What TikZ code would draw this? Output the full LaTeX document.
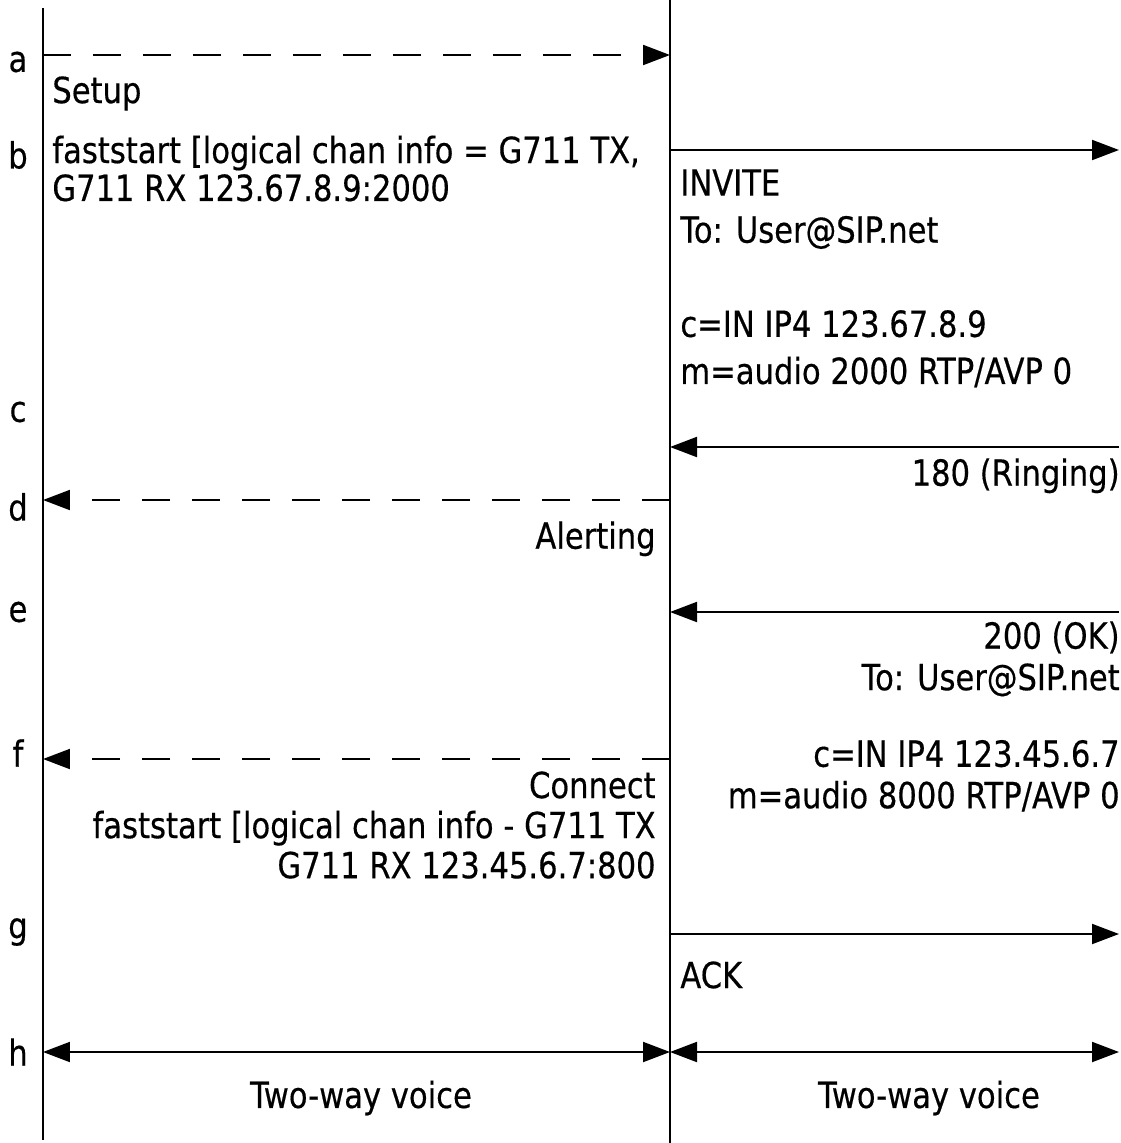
\documentclass[tikz,border=0pt]{standalone}
\usepackage{fontspec}
\setmainfont{DejaVu Sans}[FakeStretch=0.85, FakeBold=0.4]
\usetikzlibrary{arrows.meta}
\tikzset{
  life/.style={line width=0.04cm},
  msg/.style={line width=0.04cm, -{Triangle[length=0.54cm, width=0.4cm]}},
  msgdash/.style={msg, dash pattern=on 0.56cm off 0.44cm},
  voice/.style={line width=0.04cm, {Triangle[length=0.54cm, width=0.4cm]}-{Triangle[length=0.54cm, width=0.4cm]}},
  note/.style={inner sep=0pt, font=\fontsize{20.5}{22.8}\selectfont},
  notel/.style={note, align=left, anchor=north west},
  noter/.style={note, align=right, anchor=north east},
  steptag/.style={note},
}

\begin{document}
\begin{tikzpicture}[x=0.02cm, y=-0.02cm]
  \useasboundingbox (0,0) rectangle (1120,1143);
  \coordinate (Ltop) at (43,8);
  \coordinate (Lbot) at (43,1140);
  \coordinate (Mtop) at (670,0);
  \coordinate (Mbot) at (670,1143);
  \foreach \n/\y in {a/55, b/150, c/447, d/500, e/612, f/759, g/934, h/1052} {
    \coordinate (L\n) at (43,\y);
    \coordinate (M\n) at (670,\y);
    \coordinate (R\n) at (1119,\y);
  }
  \foreach \n/\y in {a/62, b/155, c/412, d/507, e/612, f/753, g/932, h/1052}
    \node[steptag] (tag\n) at (18,\y) {\n};

  \draw[life] (Ltop) -- (Lbot);
  \draw[life] (Mtop) -- (Mbot);

  \draw[msgdash] (La) -- (Ma);
  \draw[msg] (Mb) -- (Rb);
  \draw[msg] (Rc) -- (Mc);
  \draw[msgdash] (Md) -- (Ld);
  \draw[msg] (Re) -- (Me);
  \draw[msgdash] (Mf) -- (Lf);
  \draw[msg] (Mg) -- (Rg);
  \draw[voice] (Lh) -- (Mh);
  \draw[voice] (Mh) -- (Rh);

  \node[notel, font=\fontsize{20.5}{21.6}\selectfont] (setup) at (52,76) {Setup\\[12.5pt]faststart [logical chan info = G711 TX,\\G711 RX 123.67.8.9:2000};
  \node[notel, font=\fontsize{20.5}{26.8}\selectfont] (invite) at (680,169) {INVITE\\To: User@SIP.net\\[26.8pt]c=IN IP4 123.67.8.9\\m=audio 2000 RTP/AVP 0};
  \node[noter] (ringing) at (1120,458) {180 (Ringing)};
  \node[noter] (alerting) at (656,521) {Alerting};
  \node[noter, font=\fontsize{20.5}{23.6}\selectfont] (ok) at (1120,621) {200 (OK)\\To: User@SIP.net\\[20pt]c=IN IP4 123.45.6.7\\m=audio 8000 RTP/AVP 0};
  \node[noter] (connect) at (656,771) {Connect\\faststart [logical chan info - G711 TX\\G711 RX 123.45.6.7:800};
  \node[notel] (ack) at (680,961) {ACK};
  \node[note] (voiceL) at (361,1098) {Two-way voice};
  \node[note] (voiceR) at (929,1098) {Two-way voice};
\end{tikzpicture}
\end{document}
